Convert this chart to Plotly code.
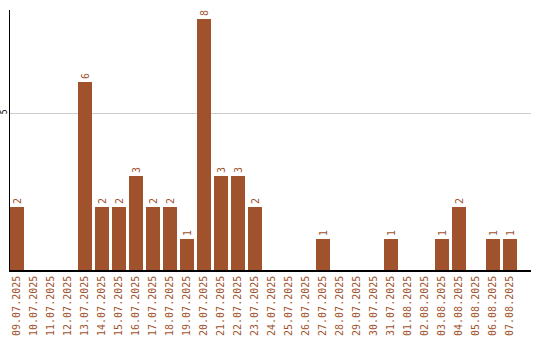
import plotly.graph_objects as go

dates = ["09.07.2025", "10.07.2025", "11.07.2025", "12.07.2025", "13.07.2025",
         "14.07.2025", "15.07.2025", "16.07.2025", "17.07.2025", "18.07.2025",
         "19.07.2025", "20.07.2025", "21.07.2025", "22.07.2025", "23.07.2025",
         "24.07.2025", "25.07.2025", "26.07.2025", "27.07.2025", "28.07.2025",
         "29.07.2025", "30.07.2025", "31.07.2025", "01.08.2025", "02.08.2025",
         "03.08.2025", "04.08.2025", "05.08.2025", "06.08.2025", "07.08.2025"]
values = [2, 0, 0, 0, 6, 2, 2, 3, 2, 2, 1, 8, 3, 3, 2, 0, 0, 0, 1, 0, 0, 0, 1, 0, 0, 1, 2, 0, 1, 1]

color = "#A0522D"
idx = list(range(len(dates)))
texts = [str(v) if v > 0 else "" for v in values]

fig = go.Figure(go.Bar(
    x=idx, y=values, width=14/17,
    marker=dict(color=color, line=dict(width=0)),
    text=texts, textposition="outside", textangle=-90,
    textfont=dict(family="DejaVu Sans Mono", size=10, color=color),
    cliponaxis=False,
))

fig.update_layout(
    width=540, height=340,
    margin=dict(l=10, r=9, t=10, b=70),
    paper_bgcolor="white", plot_bgcolor="white",
    showlegend=False,
    bargap=0,
    xaxis=dict(
        tickmode="array", tickvals=idx, ticktext=dates, tickangle=-90,
        tickfont=dict(family="DejaVu Sans Mono", size=10, color=color),
        range=[-7/17, 521/17 - 7/17],
        showline=True, linecolor="black", linewidth=1.5,
        showgrid=False, zeroline=False, ticks="", automargin=False,
    ),
    yaxis=dict(
        range=[0, 260/31.4], tickvals=[5], tickangle=-90,
        tickfont=dict(family="DejaVu Sans Mono", size=8, color="black"),
        ticklabelstandoff=-1,
        showline=True, linecolor="black", linewidth=1,
        showgrid=True, gridcolor="#cccccc", gridwidth=1,
        zeroline=False, ticks="", automargin=False,
    ),
)

fig.write_html("out.html")
